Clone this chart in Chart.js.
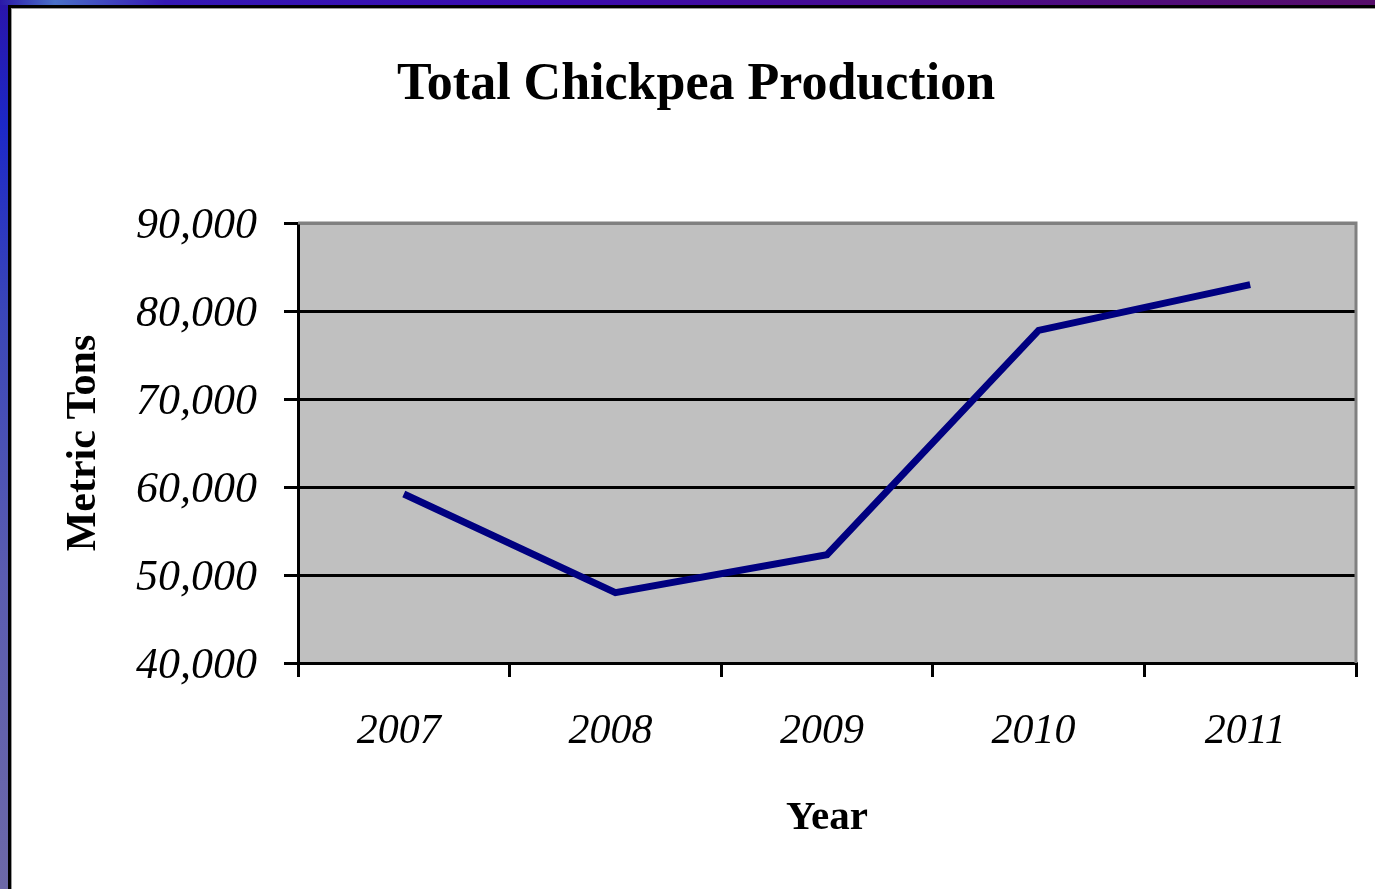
<!DOCTYPE html>
<html>
<head>
<meta charset="utf-8">
<script src="https://cdn.jsdelivr.net/npm/chart.js@4.4.1/dist/chart.umd.min.js"></script>
<style>
  html, body { margin: 0; padding: 0; width: 1375px; height: 889px; overflow: hidden; background: #fff; }
  #leftBand { position: absolute; left: 0; top: 0; width: 8px; height: 889px;
    background: linear-gradient(to bottom, #2a14a8 0%, #1c28c8 14%, #3a46b8 35%, #5a5cb0 65%, #6c68a8 100%); }
  #topBand { position: absolute; left: 0; top: 0; width: 1375px; height: 5px;
    background: linear-gradient(to right, #2a18a8 0%, #4a70c8 4%, #3418b4 12%, #3a0cb0 40%, #4a0c88 70%, #560e6a 100%); }
  #inner { position: absolute; left: 8px; top: 5px; width: 1367px; height: 884px;
    border-left: 3px solid #000; border-top: 3px solid #000; box-sizing: border-box; background: #fff; }
  #innerLine { position: absolute; left: 11px; top: 8px; width: 1364px; height: 881px;
    border-left: 1px solid #9a9a9a; border-top: 1px solid #9a9a9a; box-sizing: border-box; }
  #c { position: absolute; left: 0; top: 0; }
</style>
</head>
<body>
<div id="leftBand"></div>
<div id="topBand"></div>
<div id="inner"></div>
<div id="innerLine"></div>
<canvas id="c" width="1375" height="889"></canvas>
<script>
const years = ['2007', '2008', '2009', '2010', '2011'];
const production = [59200, 48000, 52300, 77800, 83000];
const yTicks = [40000, 50000, 60000, 70000, 80000, 90000];
const chartTitle = 'Total Chickpea Production';
const xTitle = 'Year';
const yTitle = 'Metric Tons';

const SERIF = '"Liberation Serif", "Times New Roman", serif';

const plotFrame = {
  id: 'plotFrame',
  beforeDraw(chart) {
    const { ctx, chartArea: a } = chart;
    ctx.save();
    ctx.fillStyle = '#c0c0c0';
    ctx.fillRect(a.left, a.top, a.right - a.left, a.bottom - a.top);
    ctx.restore();
  },
  beforeDatasetsDraw(chart) {
    const { ctx, chartArea: a } = chart;
    ctx.save();
    ctx.strokeStyle = '#808080';
    ctx.lineWidth = 3;
    ctx.beginPath();
    ctx.moveTo(a.left, a.top);
    ctx.lineTo(a.right, a.top);
    ctx.lineTo(a.right, a.bottom);
    ctx.stroke();
    ctx.restore();
  }
};

new Chart(document.getElementById('c'), {
  type: 'line',
  data: {
    labels: years,
    datasets: [{
      data: production,
      borderColor: '#000080',
      borderWidth: 7,
      borderCapStyle: 'butt',
      pointRadius: 0,
      tension: 0,
      fill: false
    }]
  },
  options: {
    responsive: false,
    devicePixelRatio: 1,
    animation: false,
    layout: { padding: { left: 36, right: 19, top: 0, bottom: 0 } },
    plugins: {
      legend: { display: false },
      tooltip: { enabled: false },
      title: {
        display: true,
        text: chartTitle,
        color: '#000',
        font: { family: SERIF, size: 52, weight: 'bold', lineHeight: 1.2 },
        padding: { top: 54.3, bottom: 106.3 }
      }
    },
    scales: {
      x: {
        offset: true,
        grid: { offset: true, drawOnChartArea: false, color: '#000', tickColor: '#000', lineWidth: 3, tickLength: 14 },
        border: { display: true, color: '#000', width: 3 },
        ticks: { color: '#000', padding: 30, labelOffset: -5, maxRotation: 0,
          font: { family: SERIF, size: 42, style: 'italic', lineHeight: 1.2 } },
        title: { display: true, text: xTitle, color: '#000', padding: { top: 0, bottom: 46 },
          font: { family: SERIF, size: 41, weight: 'bold', lineHeight: 1.2 } },
        afterFit(scale) { scale.height = 226; }
      },
      y: {
        min: 40000,
        max: 90000,
        afterBuildTicks(scale) { scale.ticks = yTicks.map(v => ({ value: v })); },
        grid: {
          color: (c) => (c.tick && c.tick.value === 90000) ? '#808080' : '#000',
          tickColor: '#000',
          lineWidth: 3,
          tickLength: 14
        },
        border: { display: true, color: '#000', width: 3 },
        ticks: {
          color: '#000',
          padding: 27,
          labelOffset: 3,
          font: { family: SERIF, size: 44, style: 'italic', lineHeight: 1.2 },
          callback: (v) => Number(v).toLocaleString('en-US')
        },
        title: { display: true, text: yTitle, color: '#000', padding: { top: 23, bottom: 0 },
          font: { family: SERIF, size: 42, weight: 'bold', lineHeight: 1.2 } },
        afterFit(scale) { scale.width = 262; }
      }
    }
  },
  plugins: [plotFrame]
});
</script>
</body>
</html>
